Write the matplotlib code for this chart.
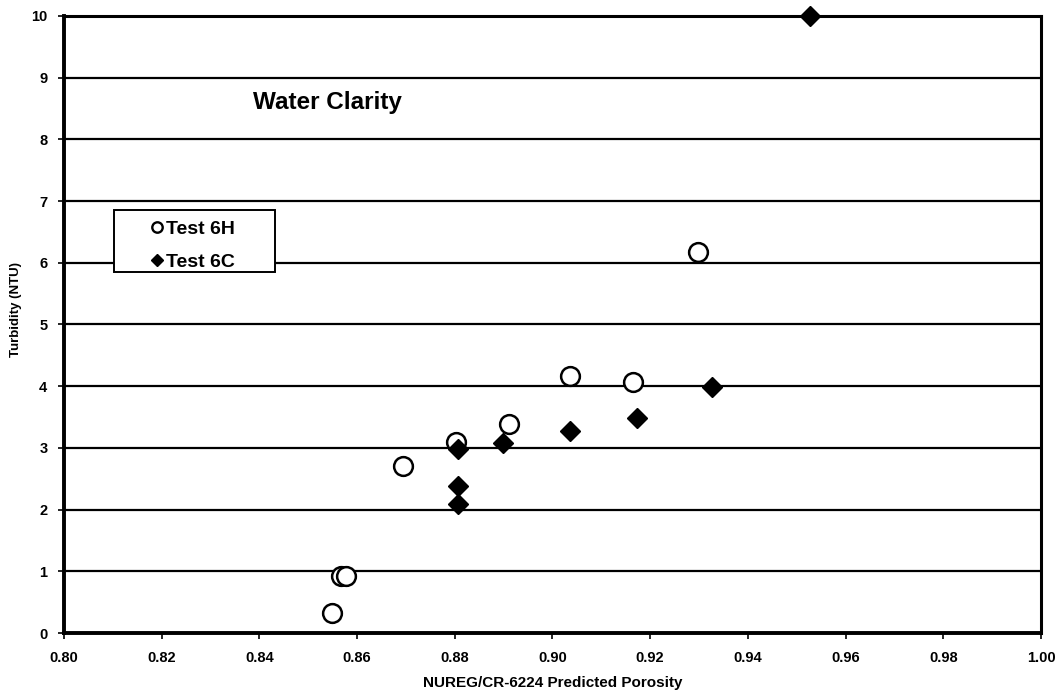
import matplotlib
matplotlib.use("Agg")
import matplotlib.pyplot as plt
from matplotlib.lines import Line2D
from matplotlib.patches import Rectangle

plt.rcParams['font.family'] = ['Liberation Sans', 'DejaVu Sans']

h_x = [0.8549, 0.8567, 0.8578, 0.8693, 0.8803, 0.8910, 0.9036, 0.9165, 0.9298]
h_y = [0.33, 0.93, 0.93, 2.70, 3.10, 3.39, 4.17, 4.07, 6.18]

c_x = [0.8807, 0.8806, 0.8806, 0.8898, 0.9036, 0.9174, 0.9327, 0.9527]
c_y = [2.98, 2.38, 2.09, 3.08, 3.27, 3.48, 3.99, 10.0]

x_ticks = [0.80, 0.82, 0.84, 0.86, 0.88, 0.90, 0.92, 0.94, 0.96, 0.98, 1.00]
y_ticks = list(range(0, 11))

fig = plt.figure(figsize=(10.58, 6.95), dpi=100)
ax = fig.add_axes([0.0605, 0.0892, 0.9234, 0.8878])

for yv in y_ticks[1:]:
    ax.axhline(yv, color='black', lw=1.6, zorder=1)

ax.plot(h_x, h_y, 'o', ms=13.5, mfc='white', mec='black', mew=1.8, ls='none',
        zorder=3, clip_on=False)
ax.plot(c_x, c_y, 'D', ms=10.5, mfc='black', mec='black', ls='none',
        zorder=4, clip_on=False)

ax.set_xlim(0.80, 1.00)
ax.set_ylim(0, 10)
ax.set_xticks(x_ticks)
ax.set_xticklabels([f"{v:.2f}" for v in x_ticks], fontweight='bold', fontsize=10.5)
ax.set_yticks(y_ticks)
ax.set_yticklabels([str(v) for v in y_ticks], fontweight='bold', fontsize=10.5)
ax.tick_params(axis='x', direction='out', length=4, width=1.2, pad=9)
ax.tick_params(axis='y', direction='out', length=4, width=1.2, pad=8)

for s in ['left', 'bottom']:
    ax.spines[s].set_linewidth(2.8)
ax.spines['top'].set_linewidth(2.2)
ax.spines['right'].set_linewidth(2.2)

ax.set_xlabel('NUREG/CR-6224 Predicted Porosity', fontweight='bold', fontsize=11, labelpad=8)
ax.set_ylabel('Turbidity (NTU)', fontweight='bold', fontsize=9.5)
ax.yaxis.set_label_coords(-0.043, 0.525)

ax.text(0.8387, 8.6, 'Water Clarity', fontweight='bold', fontsize=17.5, ha='left', va='center')

# legend box
ax.add_patch(Rectangle((0.0512, 0.585), 0.1648, 0.1006, transform=ax.transAxes,
                       facecolor='white', edgecolor='black', lw=1.4, zorder=5))
handles = [
    Line2D([], [], marker='o', ms=7.5, mfc='white', mec='black', mew=1.7, ls='none'),
    Line2D([], [], marker='D', ms=6.5, mfc='black', mec='black', ls='none'),
]
leg = ax.legend(handles, ['Test 6H', 'Test 6C'], loc='center',
                bbox_to_anchor=(0.1315, 0.628), frameon=False,
                handletextpad=0.15, handlelength=0.7, borderpad=0.2, labelspacing=0.8,
                prop={'weight': 'bold', 'size': 14})
leg.set_zorder(6)

fig.savefig('out.png', dpi=100)
